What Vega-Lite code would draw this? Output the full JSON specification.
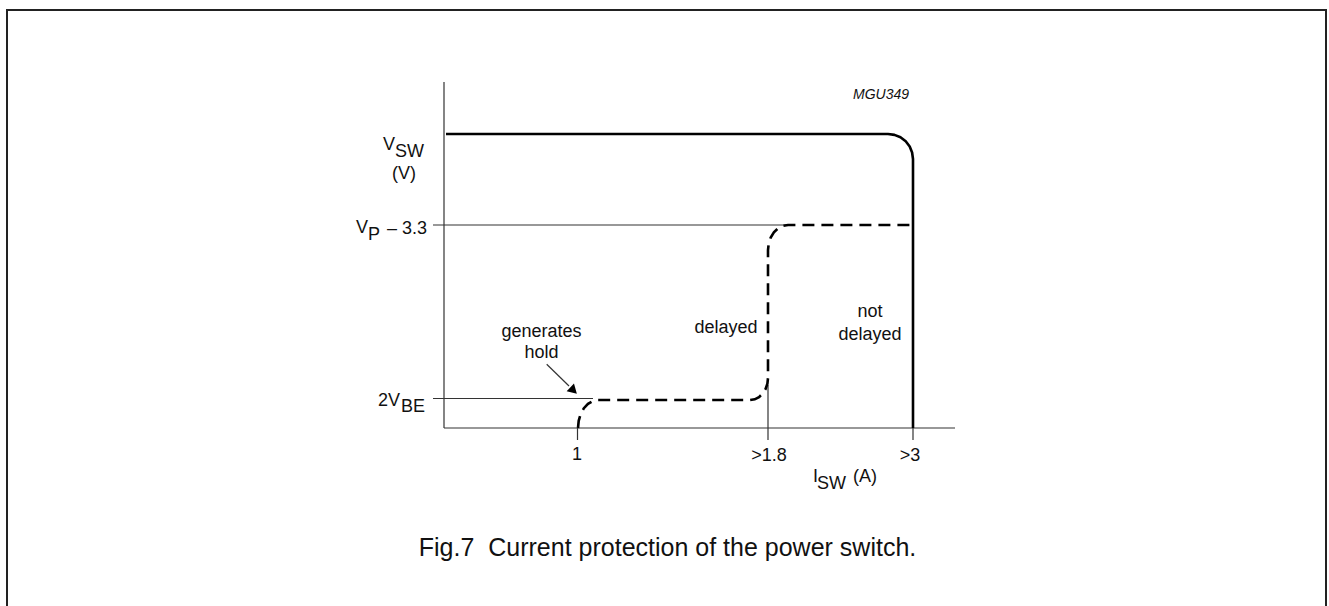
{
  "$schema": "https://vega.github.io/schema/vega-lite/v6.json",
  "width": 1329,
  "height": 606,
  "autosize": {"type": "none"},
  "padding": 0,
  "config": {"view": {"stroke": null}, "text": {"font": "Liberation Sans", "color": "#111"}},
  "datasets": {
    "frame": [
      {"seg": "f", "i": 0, "x": -43.7, "y": -17.8},
      {"seg": "f", "i": 1, "x": -43.7, "y": 41.8},
      {"seg": "f", "i": 2, "x": 88.2, "y": 41.8},
      {"seg": "f", "i": 3, "x": 88.2, "y": -17.8}
    ],
    "thin": [
      {"seg": "yaxis", "i": 0, "x": 0, "y": 0},
      {"seg": "yaxis", "i": 1, "x": 0, "y": 34.6},
      {"seg": "xaxis", "i": 0, "x": 0, "y": 0},
      {"seg": "xaxis", "i": 1, "x": 51.1, "y": 0},
      {"seg": "vp", "i": 0, "x": -1.1, "y": 20.3},
      {"seg": "vp", "i": 1, "x": 34.3, "y": 20.3},
      {"seg": "vbe", "i": 0, "x": -1.1, "y": 2.95},
      {"seg": "vbe", "i": 1, "x": 14.9, "y": 2.95},
      {"seg": "t1", "i": 0, "x": 13.35, "y": 0},
      {"seg": "t1", "i": 1, "x": 13.35, "y": -1.2},
      {"seg": "t18", "i": 0, "x": 32.4, "y": 4.3},
      {"seg": "t18", "i": 1, "x": 32.4, "y": -1.2},
      {"seg": "t3", "i": 0, "x": 46.9, "y": 0},
      {"seg": "t3", "i": 1, "x": 46.9, "y": -1.2},
      {"seg": "arrow", "i": 0, "x": 10.27, "y": 6.37},
      {"seg": "arrow", "i": 1, "x": 12.5, "y": 4.2}
    ],
    "solid": [
      {"i": 0, "x": 0.2, "y": 29.4},
      {"i": 1, "x": 44.4, "y": 29.4},
      {"i": 2, "x": 45.05, "y": 29.31},
      {"i": 3, "x": 45.65, "y": 29.07},
      {"i": 4, "x": 46.17, "y": 28.67},
      {"i": 5, "x": 46.57, "y": 28.15},
      {"i": 6, "x": 46.81, "y": 27.55},
      {"i": 7, "x": 46.9, "y": 26.9},
      {"i": 8, "x": 46.9, "y": 0}
    ],
    "dashed": [
      {"i": 0, "x": 13.4, "y": 0},
      {"i": 1, "x": 13.47, "y": 0.72},
      {"i": 2, "x": 13.67, "y": 1.4},
      {"i": 3, "x": 13.99, "y": 1.98},
      {"i": 4, "x": 14.4, "y": 2.42},
      {"i": 5, "x": 14.88, "y": 2.7},
      {"i": 6, "x": 15.4, "y": 2.8},
      {"i": 7, "x": 30.6, "y": 2.8},
      {"i": 8, "x": 31.07, "y": 2.87},
      {"i": 9, "x": 31.5, "y": 3.09},
      {"i": 10, "x": 31.87, "y": 3.44},
      {"i": 11, "x": 32.16, "y": 3.9},
      {"i": 12, "x": 32.34, "y": 4.43},
      {"i": 13, "x": 32.4, "y": 5.0},
      {"i": 14, "x": 32.4, "y": 17.8},
      {"i": 15, "x": 32.47, "y": 18.45},
      {"i": 16, "x": 32.67, "y": 19.05},
      {"i": 17, "x": 32.99, "y": 19.57},
      {"i": 18, "x": 33.4, "y": 19.97},
      {"i": 19, "x": 33.88, "y": 20.21},
      {"i": 20, "x": 34.4, "y": 20.3},
      {"i": 21, "x": 46.9, "y": 20.3}
    ],
    "head": [{"x": 12.85, "y": 3.85}],
    "textLeft": [
      {"t": "V", "x": -6.1, "y": 27.8},
      {"t": "SW", "x": -4.9, "y": 27.1},
      {"t": "V", "x": -8.8, "y": 19.5},
      {"t": "P", "x": -7.6, "y": 18.8},
      {"t": "BE", "x": -4.3, "y": 1.6},
      {"t": "I", "x": 36.9, "y": -5.4},
      {"t": "SW", "x": 37.3, "y": -6.1},
      {"t": "(A)", "x": 40.9, "y": -5.4}
    ],
    "textRight": [
      {"t": "– 3.3", "x": -1.7, "y": 19.4},
      {"t": "2V", "x": -4.4, "y": 2.2}
    ],
    "textCenter": [
      {"t": "(V)", "x": -4.0, "y": 24.9},
      {"t": "1", "x": 13.3, "y": -3.2},
      {"t": ">1.8", "x": 32.5, "y": -3.3},
      {"t": ">3", "x": 46.6, "y": -3.3},
      {"t": "generates", "x": 9.75, "y": 9.1},
      {"t": "hold", "x": 9.75, "y": 7.0},
      {"t": "delayed", "x": 28.2, "y": 9.5},
      {"t": "not", "x": 42.6, "y": 11.1},
      {"t": "delayed", "x": 42.6, "y": 8.8}
    ],
    "code": [{"t": "MGU349", "x": 40.9, "y": 32.9}],
    "caption": [{"t": "Fig.7 \u00a0Current protection of the power switch.", "x": 22.35, "y": -12.8}]
  },
  "encoding": {
    "x": {"field": "x", "type": "quantitative", "scale": {"domain": [-44.4, 88.5], "nice": false, "zero": false}, "axis": null},
    "y": {"field": "y", "type": "quantitative", "scale": {"domain": [-17.8, 42.8], "nice": false, "zero": false}, "axis": null}
  },
  "layer": [
    {"data": {"name": "frame"}, "mark": {"type": "line", "stroke": "#222", "strokeWidth": 2, "clip": false}, "encoding": {"order": {"field": "i"}, "detail": {"field": "seg"}}},
    {"data": {"name": "thin"}, "mark": {"type": "line", "stroke": "#333", "strokeWidth": 1.2}, "encoding": {"order": {"field": "i"}, "detail": {"field": "seg"}}},
    {"data": {"name": "solid"}, "mark": {"type": "line", "stroke": "#000", "strokeWidth": 2.6, "strokeJoin": "round"}, "encoding": {"order": {"field": "i"}}},
    {"data": {"name": "dashed"}, "mark": {"type": "line", "stroke": "#000", "strokeWidth": 2.6, "strokeDash": [12, 7]}, "encoding": {"order": {"field": "i"}}},
    {"data": {"name": "head"}, "mark": {"type": "point", "shape": "triangle", "filled": true, "color": "#000", "size": 110, "angle": 134, "opacity": 1}},
    {"data": {"name": "textLeft"}, "mark": {"type": "text", "align": "left", "baseline": "alphabetic", "fontSize": 18}, "encoding": {"text": {"field": "t"}}},
    {"data": {"name": "textRight"}, "mark": {"type": "text", "align": "right", "baseline": "alphabetic", "fontSize": 18}, "encoding": {"text": {"field": "t"}}},
    {"data": {"name": "textCenter"}, "mark": {"type": "text", "align": "center", "baseline": "alphabetic", "fontSize": 18}, "encoding": {"text": {"field": "t"}}},
    {"data": {"name": "code"}, "mark": {"type": "text", "align": "left", "baseline": "alphabetic", "fontSize": 14, "fontStyle": "italic"}, "encoding": {"text": {"field": "t"}}},
    {"data": {"name": "caption"}, "mark": {"type": "text", "align": "center", "baseline": "alphabetic", "fontSize": 25}, "encoding": {"text": {"field": "t"}}}
  ]
}
